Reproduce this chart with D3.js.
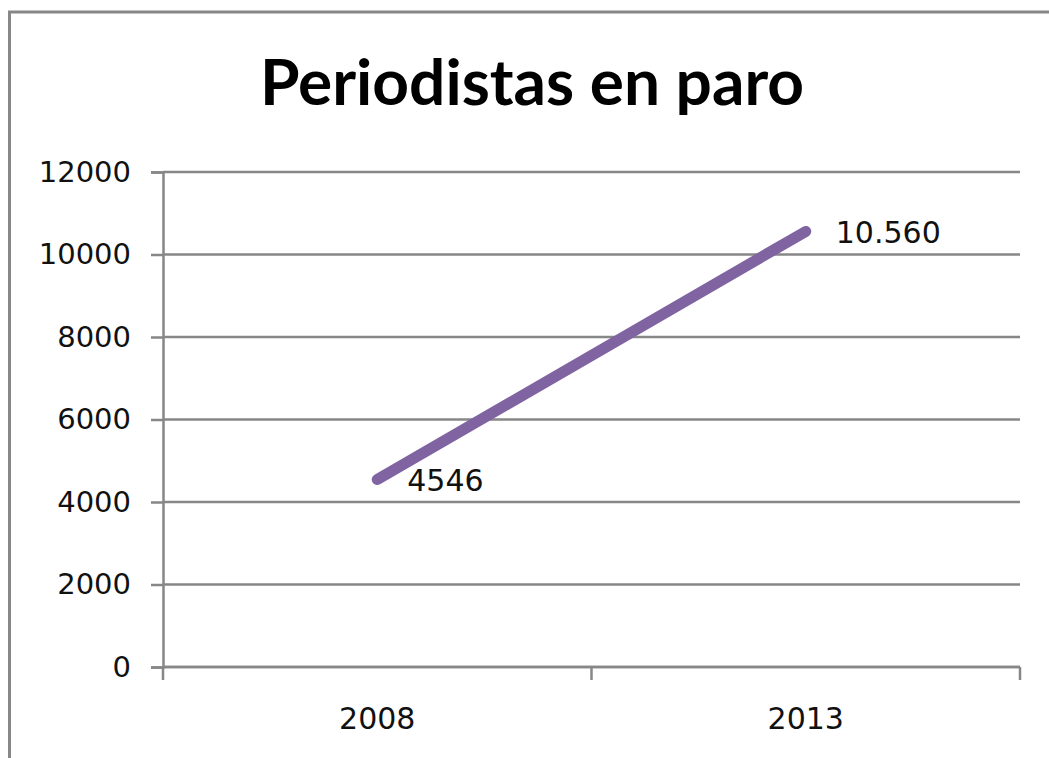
<!DOCTYPE html>
<html>
<head>
<meta charset="utf-8">
<script src="https://cdn.jsdelivr.net/npm/d3@7"></script>
<style>
  body { margin: 0; background: #fff; }
  svg { display: block; }
</style>
</head>
<body>
<div id="chart"></div>
<script>
// data
const years = ["2008", "2013"];
const values = [4546, 10560];
const valueLabels = ["4546", "10.560"];
const yTicks = [0, 2000, 4000, 6000, 8000, 10000, 12000];
const title = "Periodistas en paro";

const W = 1049, H = 758;
const margin = { top: 172, right: 29, bottom: 91, left: 163 },
  width = W - margin.left - margin.right,
  height = H - margin.top - margin.bottom;

const gray = "#878787";

const root = d3
  .select("#chart")
  .append("svg")
  .attr("width", W)
  .attr("height", H);

// chart frame (only top and left edges fall inside the picture)
root.append("rect")
  .attr("x", 9.5)
  .attr("y", 12)
  .attr("width", W + 20)
  .attr("height", H + 20)
  .attr("fill", "none")
  .attr("stroke", gray)
  .attr("stroke-width", 3);

root.append("text")
  .attr("x", 532)
  .attr("y", 105)
  .attr("text-anchor", "middle")
  .style("font-family", "Lato, 'Open Sans', sans-serif")
  .style("font-weight", "bold")
  .style("font-size", "64px")
  .style("fill", "#000")
  .text(title);

const svg = root.append("g")
  .attr("transform", `translate(${margin.left},${margin.top})`);

const x = d3.scaleBand().domain(years).range([0, width]);
const y = d3.scaleLinear().domain([0, 12000]).range([height, 0]);

// gridlines
svg.append("g")
  .selectAll("line")
  .data(yTicks)
  .join("line")
  .attr("x1", 0)
  .attr("x2", width)
  .attr("y1", (d) => y(d))
  .attr("y2", (d) => y(d))
  .attr("stroke", gray)
  .attr("stroke-width", 2.5);

// Y axis
const yAxis = svg.append("g")
  .call(d3.axisLeft(y).tickValues(yTicks).tickSize(12).tickPadding(20).tickFormat(d3.format("d")));
yAxis.select(".domain").attr("stroke", gray).attr("stroke-width", 2.5);
yAxis.selectAll(".tick line").attr("stroke", gray).attr("stroke-width", 2.5);
yAxis.selectAll("text")
  .style("font-family", "'DejaVu Sans', sans-serif")
  .style("font-size", "29px")
  .style("fill", "#111");

// X axis, ticks at band edges
const edges = [0, ...years.map((d) => x(d) + x.bandwidth())];
const xAxis = svg.append("g").attr("transform", `translate(0,${height})`);
xAxis.append("line")
  .attr("x1", 0).attr("x2", width)
  .attr("stroke", gray).attr("stroke-width", 2.5);
xAxis.selectAll(".edge")
  .data(edges)
  .join("line")
  .attr("class", "edge")
  .attr("x1", (d) => d).attr("x2", (d) => d)
  .attr("y1", 0).attr("y2", 13)
  .attr("stroke", gray).attr("stroke-width", 2.5);
xAxis.selectAll(".cat")
  .data(years)
  .join("text")
  .attr("class", "cat")
  .attr("x", (d) => x(d) + x.bandwidth() / 2)
  .attr("y", 62)
  .attr("text-anchor", "middle")
  .style("font-family", "'DejaVu Sans', sans-serif")
  .style("font-size", "30px")
  .style("fill", "#111")
  .text((d) => d);

// line
const pts = years.map((d, i) => ({ year: d, value: values[i], label: valueLabels[i] }));
svg.append("path")
  .datum(pts)
  .attr("fill", "none")
  .attr("stroke", "#8064a2")
  .attr("stroke-width", 11)
  .attr("stroke-linecap", "round")
  .attr("d", d3.line()
    .x((d) => x(d.year) + x.bandwidth() / 2)
    .y((d) => y(d.value)));

// data labels
svg.selectAll(".dlabel")
  .data(pts)
  .join("text")
  .attr("class", "dlabel")
  .attr("x", (d) => x(d.year) + x.bandwidth() / 2 + 30)
  .attr("y", (d) => y(d.value) + 3)
  .attr("dominant-baseline", "middle")
  .style("font-family", "'DejaVu Sans', sans-serif")
  .style("font-size", "30px")
  .style("fill", "#111")
  .text((d) => d.label);
</script>
</body>
</html>
